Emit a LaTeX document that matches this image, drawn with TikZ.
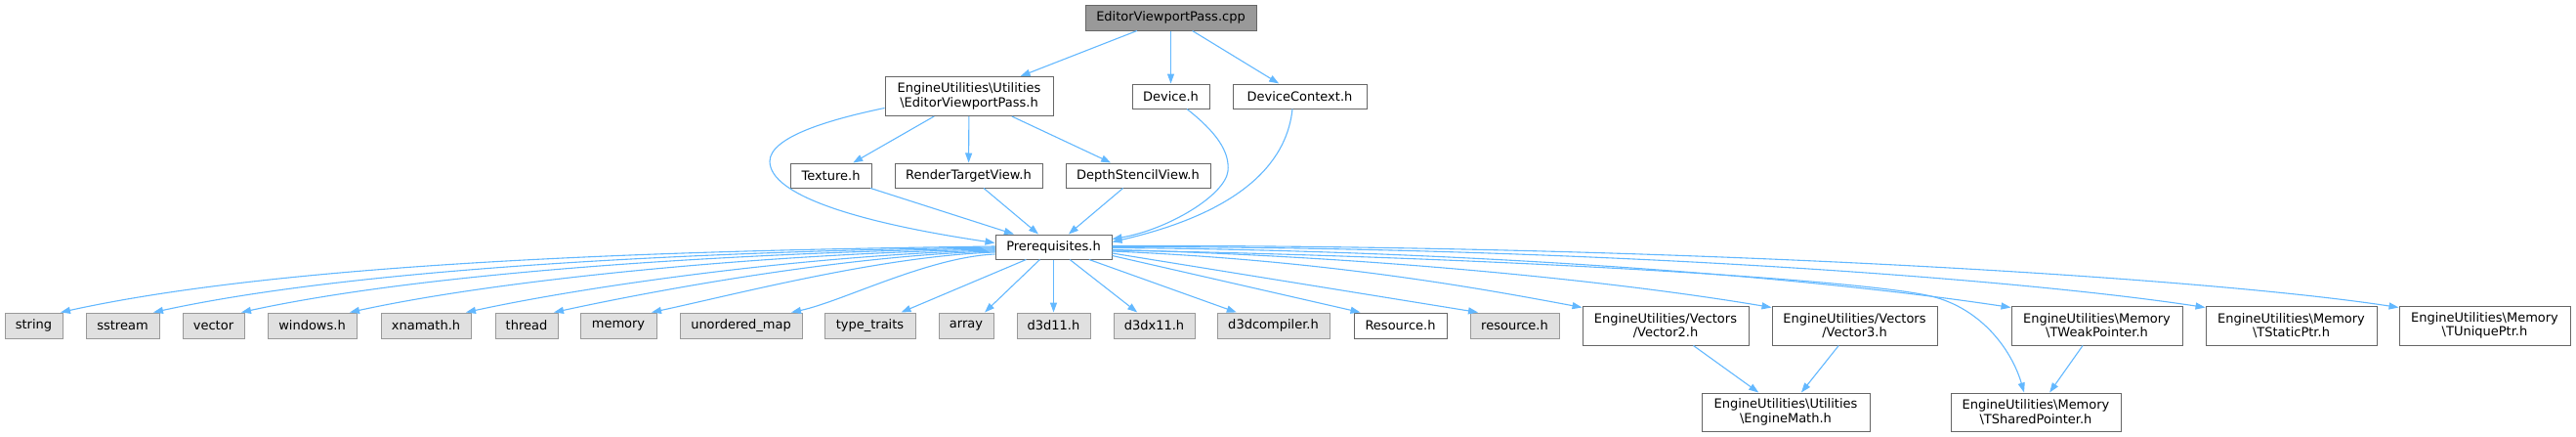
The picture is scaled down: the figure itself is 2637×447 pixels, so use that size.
\documentclass[tikz,border=0pt]{standalone}
\usepackage{fontspec}
\setmainfont{DejaVu Sans}
\usetikzlibrary{arrows.meta,calc}
\definecolor{edgeblue}{HTML}{63B8FF}
\definecolor{gfill}{HTML}{E0E0E0}
\definecolor{gborder}{HTML}{999999}
\definecolor{wborder}{HTML}{666666}
\definecolor{rootfill}{HTML}{999999}
\begin{document}
\begin{tikzpicture}[x=1pt,y=-1pt,
  nodebox/.style={draw=wborder,fill=white,line width=1pt,inner sep=0pt,align=center,
    font=\fontsize{13}{14.5}\selectfont},
  extbox/.style={nodebox,draw=gborder,fill=gfill,minimum height=26pt},
  rootbox/.style={nodebox,fill=rootfill},
  onebox/.style={nodebox,minimum height=25pt},
  twobox/.style={nodebox,minimum height=40pt},
  dep/.style={draw=edgeblue,line width=1.1pt,-{Triangle[length=10pt,width=7pt]}}
]
\useasboundingbox (0,0) rectangle (2637,447);
% top
\node[rootbox,minimum width=175pt,minimum height=26pt] (cpp) at (1198.5,18) {EditorViewportPass.cpp};
% second row
\node[twobox,minimum width=172pt] (evp) at (992,98.5) {EngineUtilities\textbackslash Utilities\\\textbackslash EditorViewportPass.h};
\node[onebox,minimum width=79pt] (device) at (1198.5,98.5) {Device.h};
\node[onebox,minimum width=137pt] (devctx) at (1330.5,98.5) {DeviceContext.h};
% third row
\node[onebox,minimum width=83pt] (texture) at (850.5,179.5) {Texture.h};
\node[onebox,minimum width=151pt] (rtv) at (991.5,179.5) {RenderTargetView.h};
\node[onebox,minimum width=148pt] (dsv) at (1165,179.5) {DepthStencilView.h};
% prerequisites
\node[onebox,minimum width=119pt] (prereq) at (1078.5,252.5) {Prerequisites.h};
% bottom row
\node[extbox,minimum width=59pt] (string) at (34.5,333) {string};
\node[extbox,minimum width=75pt] (sstream) at (125.5,333) {sstream};
\node[extbox,minimum width=63pt] (vector) at (218.5,333) {vector};
\node[extbox,minimum width=91pt] (windows) at (319.5,333) {windows.h};
\node[extbox,minimum width=92pt] (xnamath) at (436,333) {xnamath.h};
\node[extbox,minimum width=64pt] (thread) at (539,333) {thread};
\node[extbox,minimum width=78pt] (memory) at (633,333) {memory};
\node[extbox,minimum width=125pt] (umap) at (758.5,333) {unordered\_map};
\node[extbox,minimum width=93pt] (ttraits) at (890.5,333) {type\_traits};
\node[extbox,minimum width=56pt] (array) at (989,333) {array};
\node[extbox,minimum width=75pt] (d3d11) at (1078.5,333) {d3d11.h};
\node[extbox,minimum width=83pt] (d3dx11) at (1181.5,333) {d3dx11.h};
\node[extbox,minimum width=115pt] (d3dcomp) at (1303.5,333) {d3dcompiler.h};
\node[onebox,minimum height=26pt,minimum width=95pt] (resourceU) at (1433.5,333) {Resource.h};
\node[extbox,minimum width=91pt] (resourceL) at (1550.5,333) {resource.h};
\node[twobox,minimum width=170pt] (vector2) at (1705,333) {EngineUtilities/Vectors\\/Vector2.h};
\node[twobox,minimum width=169pt] (vector3) at (1898.5,333) {EngineUtilities/Vectors\\/Vector3.h};
\node[twobox,minimum width=175pt] (tweak) at (2146.5,333) {EngineUtilities\textbackslash Memory\\\textbackslash TWeakPointer.h};
\node[twobox,minimum width=175pt] (tstatic) at (2345.5,333) {EngineUtilities\textbackslash Memory\\\textbackslash TStaticPtr.h};
\node[twobox,minimum width=175pt] (tunique) at (2543.5,333) {EngineUtilities\textbackslash Memory\\\textbackslash TUniquePtr.h};
% lowest row
\node[twobox,minimum width=172pt,minimum height=39pt] (emath) at (1828,421.5) {EngineUtilities\textbackslash Utilities\\\textbackslash EngineMath.h};
\node[twobox,minimum width=174pt,minimum height=39pt] (tshared) at (2084,421.5) {EngineUtilities\textbackslash Memory\\\textbackslash TSharedPointer.h};

% edges from the top
\draw[dep] (cpp) -- (evp);
\draw[dep] (cpp) -- (device);
\draw[dep] (cpp) -- (devctx);
\draw[dep] (evp) -- (texture);
\draw[dep] (evp) -- (rtv);
\draw[dep] (evp) -- (dsv);
\draw[dep] (texture) -- (prereq);
\draw[dep] (rtv) -- (prereq);
\draw[dep] (dsv) -- (prereq);
\draw[dep] ($(evp.west)+(0,12)$) .. controls (850,122) and (788,140) .. (788,165)
  .. controls (788,200) and (880,228) .. ($(prereq.west)+(0,-4)$);
\draw[dep] ($(device.south)+(16.5,0)$) .. controls (1245,135) and (1259,155) .. (1257,175)
  .. controls (1254,200) and (1195,235) .. ($(prereq.east)+(0,-8)$);
\draw[dep] ($(devctx.south)+(-7.5,0)$) .. controls (1318,160) and (1280,215) .. ($(prereq.east)+(0,-5)$);

% fan to the left
\draw[dep] ($(prereq.west)+(0,-0.5)$) .. controls (703,256) and (301,267) .. ($(string.north)+(27.5,0)$);
\draw[dep] ($(prereq.west)+(0,0.5)$) .. controls (735,257) and (372.5,272.6) .. ($(sstream.north)+(31.5,0)$);
\draw[dep] ($(prereq.west)+(0,1.5)$) .. controls (764,258) and (440,277.5) .. ($(vector.north)+(28.5,0)$);
\draw[dep] ($(prereq.west)+(0,2.5)$) .. controls (801,259) and (523,283.6) .. ($(windows.north)+(38.5,0)$);
\draw[dep] ($(prereq.west)+(0,3.5)$) .. controls (840,260) and (612.5,290.2) .. ($(xnamath.north)+(41,0)$);
\draw[dep] ($(prereq.west)+(0,4.5)$) .. controls (870,261) and (680,295) .. ($(thread.north)+(28,0)$);
\draw[dep] ($(prereq.west)+(0,5.5)$) .. controls (903,262) and (755,300.6) .. ($(memory.north)+(34,0)$);
\draw[dep] ($(prereq.west)+(0,7.5)$) .. controls (950,263) and (862,308.5) .. ($(umap.north)+(51.5,0)$);
\draw[dep] ($(prereq.south)+(-28,0)$) -- ($(ttraits.north)+(32,0)$);
\draw[dep] ($(prereq.south)+(-14,0)$) -- ($(array.north)+(19,0)$);
% fan downward and to the right
\draw[dep] (prereq) -- (d3d11);
\draw[dep] (prereq) -- (d3dx11);
\draw[dep] (prereq) -- (d3dcomp);
\draw[dep] ($(prereq.east)+(0,9)$) -- ($(resourceU.north)+(-41,0)$);
\draw[dep] ($(prereq.east)+(0,6.5)$) -- ($(resourceL.north)+(-37.5,0)$);
\draw[dep] ($(prereq.east)+(0,4.5)$) .. controls (1350,266) and (1500,292) .. ($(vector2.north west)+(0,2)$);
\draw[dep] ($(prereq.east)+(0,3)$) .. controls (1400,262) and (1650,287) .. ($(vector3.north west)+(0,2)$);
\draw[dep] ($(prereq.east)+(0,3.5)$) .. controls (1500,262) and (1900,285) .. (1977,303)
  .. controls (2030,316) and (2060,360) .. ($(tshared.north)+(-12,0)$);
\draw[dep] ($(prereq.east)+(0,1)$) .. controls (1500,256) and (1850,283) .. ($(tweak.north west)+(0,2)$);
\draw[dep] ($(prereq.east)+(0,0)$) .. controls (1600,252) and (2050,283) .. ($(tstatic.north west)+(0,2)$);
\draw[dep] ($(prereq.east)+(0,-1)$) .. controls (1700,250) and (2250,283) .. ($(tunique.north west)+(0,2)$);
% lowest level
\draw[dep] (vector2) -- (emath);
\draw[dep] (vector3) -- (emath);
\draw[dep] (tweak) -- (tshared);
\end{tikzpicture}
\end{document}
